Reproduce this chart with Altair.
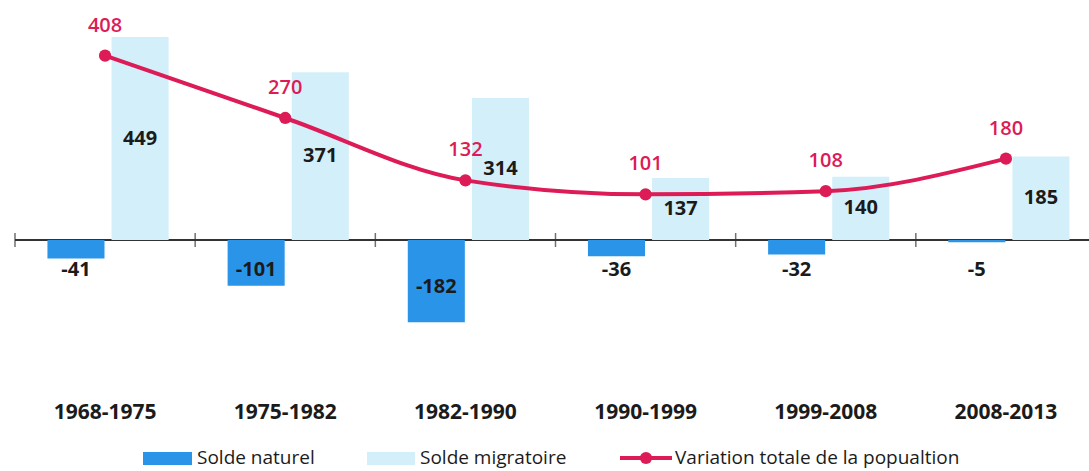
import altair as alt
import pandas as pd

periodes = ["1968-1975", "1975-1982", "1982-1990", "1990-1999", "1999-2008", "2008-2013"]
solde_naturel = [-41, -101, -182, -36, -32, -5]
solde_migratoire = [449, 371, 314, 137, 140, 185]
variation_totale = [408, 270, 132, 101, 108, 180]
series = ["Solde naturel", "Solde migratoire"]
legende_ligne = "Variation totale de la popualtion"

bars_df = pd.DataFrame({
    "periode": periodes * 2,
    "serie": [series[0]] * len(periodes) + [series[1]] * len(periodes),
    "valeur": solde_naturel + solde_migratoire,
})
total_df = pd.DataFrame({"periode": periodes, "total": variation_totale})
one = pd.DataFrame({"k": [0]})

BLUE = "#2a95e8"
LIGHT = "#d3eff9"
RED = "#dc1b57"
INK = "#1b1b1b"
AXIS = "#333333"
FONT = "Open Sans"

x_scale = alt.Scale(domain=periodes, range=[0, 1081], paddingInner=0, paddingOuter=0)
y_scale = alt.Scale(domain=[-343, 509], nice=False, zero=False)

x_enc = alt.X("periode:N", scale=x_scale, sort=periodes,
              axis=alt.Axis(title=None, domain=False, ticks=False, grid=False, labelAngle=0,
                            labelFont=FONT, labelFontSize=21, labelFontWeight="bold",
                            labelColor=INK, labelPadding=6, labelOverlap=False, labelBound=False))
xoff_enc = alt.XOffset("serie:N", sort=series,
                       scale=alt.Scale(domain=series, paddingInner=0.11, paddingOuter=0.46, align=0.55))

axis_rule = alt.Chart(total_df).mark_rule(color=AXIS, strokeWidth=1.5).encode(
    y=alt.Y(datum=0, scale=y_scale, axis=None))

axis_ticks = alt.Chart(total_df).mark_tick(orient="vertical", size=14, thickness=1.5, color=AXIS).encode(
    x=alt.X("periode:N", bandPosition=0, scale=x_scale, sort=periodes),
    y=alt.Y(datum=0, scale=y_scale, axis=None))

bars = alt.Chart(bars_df).mark_bar().encode(
    x=x_enc, xOffset=xoff_enc,
    y=alt.Y("valeur:Q", scale=y_scale, axis=None),
    color=alt.Color("serie:N", scale=alt.Scale(domain=series, range=[BLUE, LIGHT]), legend=None))

mig_labels = alt.Chart(bars_df).transform_filter(alt.datum.serie == series[1]).transform_calculate(
    ypos="datum.valeur / 2", lab="toString(datum.valeur)").mark_text(
    font=FONT, fontSize=20, fontWeight="bold", color=INK).encode(
    x=x_enc, xOffset=xoff_enc, y=alt.Y("ypos:Q", scale=y_scale, axis=None), text="lab:N")

nat_labels = alt.Chart(bars_df).transform_filter(alt.datum.serie == series[0]).transform_calculate(
    ypos="min(datum.valeur / 2 - 12, -66)", lab="toString(datum.valeur)").mark_text(
    font=FONT, fontSize=20, fontWeight="bold", color=INK).encode(
    x=x_enc, xOffset=xoff_enc, y=alt.Y("ypos:Q", scale=y_scale, axis=None), text="lab:N")

line = alt.Chart(total_df).mark_line(color=RED, strokeWidth=4, interpolate="monotone").encode(
    x=x_enc, y=alt.Y("total:Q", scale=y_scale, axis=None))
points = alt.Chart(total_df).mark_circle(color=RED, size=150, opacity=1).encode(
    x=x_enc, y=alt.Y("total:Q", scale=y_scale, axis=None))
line_labels = alt.Chart(total_df).mark_text(color=RED, font=FONT, fontSize=20, fontWeight=600, dy=-30).encode(
    x=x_enc, y=alt.Y("total:Q", scale=y_scale, axis=None), text="total:Q")

# manual legend
leg_rect1 = alt.Chart(one).mark_rect(color=BLUE).encode(
    x=alt.value(128), x2=alt.value(177), y=alt.value(442), y2=alt.value(455))
leg_text1 = alt.Chart(one).mark_text(align="left", baseline="middle", font=FONT, fontSize=19, color=INK).encode(
    x=alt.value(182), y=alt.value(448), text=alt.value(series[0]))
leg_rect2 = alt.Chart(one).mark_rect(color=LIGHT).encode(
    x=alt.value(352), x2=alt.value(400), y=alt.value(442), y2=alt.value(455))
leg_text2 = alt.Chart(one).mark_text(align="left", baseline="middle", font=FONT, fontSize=19, color=INK).encode(
    x=alt.value(405), y=alt.value(448), text=alt.value(series[1]))
leg_line = alt.Chart(one).mark_rule(color=RED, strokeWidth=4).encode(
    x=alt.value(605), x2=alt.value(657), y=alt.value(448))
leg_dot = alt.Chart(one).mark_circle(color=RED, size=150, opacity=1).encode(
    x=alt.value(631), y=alt.value(448))
leg_text3 = alt.Chart(one).mark_text(align="left", baseline="middle", font=FONT, fontSize=19, color=INK).encode(
    x=alt.value(660), y=alt.value(448), text=alt.value(legende_ligne))

chart = alt.layer(
    axis_rule, bars, axis_ticks, mig_labels, nat_labels, line, points, line_labels,
    leg_rect1, leg_text1, leg_rect2, leg_text2, leg_line, leg_dot, leg_text3,
).properties(
    width=1074, height=385,
    padding={"left": 15, "top": 10, "right": 0, "bottom": 76},
    autosize=alt.AutoSizeParams(type="none"),
    background="white",
).configure_view(stroke=None)

chart.save("out.html", embed_options={"renderer": "svg", "actions": False})
